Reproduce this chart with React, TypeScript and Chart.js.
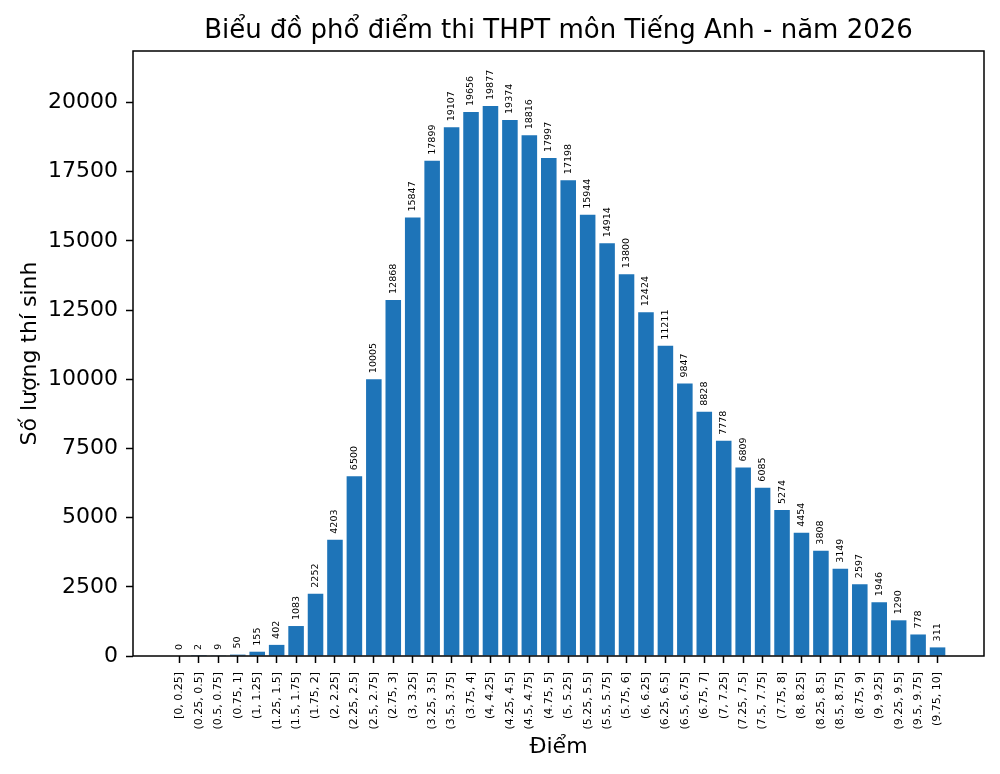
import { useEffect, useRef } from 'react'
import { Chart, registerables, type Plugin } from 'chart.js'

Chart.register(...registerables)

const FONT = '"DejaVu Sans", sans-serif'
const BAR_COLOR = '#1e74b8'

const TITLE = 'Biểu đồ phổ điểm thi THPT môn Tiếng Anh - năm 2026'
const Y_TITLE = 'Số lượng thí sinh'
const X_TITLE = 'Điểm'

const categories = [
  '[0, 0.25]', '(0.25, 0.5]', '(0.5, 0.75]', '(0.75, 1]',
  '(1, 1.25]', '(1.25, 1.5]', '(1.5, 1.75]', '(1.75, 2]',
  '(2, 2.25]', '(2.25, 2.5]', '(2.5, 2.75]', '(2.75, 3]',
  '(3, 3.25]', '(3.25, 3.5]', '(3.5, 3.75]', '(3.75, 4]',
  '(4, 4.25]', '(4.25, 4.5]', '(4.5, 4.75]', '(4.75, 5]',
  '(5, 5.25]', '(5.25, 5.5]', '(5.5, 5.75]', '(5.75, 6]',
  '(6, 6.25]', '(6.25, 6.5]', '(6.5, 6.75]', '(6.75, 7]',
  '(7, 7.25]', '(7.25, 7.5]', '(7.5, 7.75]', '(7.75, 8]',
  '(8, 8.25]', '(8.25, 8.5]', '(8.5, 8.75]', '(8.75, 9]',
  '(9, 9.25]', '(9.25, 9.5]', '(9.5, 9.75]', '(9.75, 10]',
]

const counts = [
  0, 2, 9, 50, 155, 402, 1083, 2252, 4203, 6500,
  10005, 12868, 15847, 17899, 19107, 19656, 19877, 19374, 18816, 17997,
  17198, 15944, 14914, 13800, 12424, 11211, 9847, 8828, 7778, 6809,
  6085, 5274, 4454, 3808, 3149, 2597, 1946, 1290, 778, 311,
]

const yTicks = [0, 2500, 5000, 7500, 10000, 12500, 15000, 17500, 20000]

// matplotlib-like frame, titles and value labels
const decorPlugin: Plugin<'bar'> = {
  id: 'mplDecor',
  afterDatasetsDraw(chart) {
    const { ctx } = chart
    const meta = chart.getDatasetMeta(0)
    ctx.save()
    ctx.fillStyle = '#000'
    ctx.font = `9.5px ${FONT}`
    ctx.textAlign = 'left'
    ctx.textBaseline = 'middle'
    meta.data.forEach((el, i) => {
      ctx.save()
      ctx.translate(el.x, el.y - 6)
      ctx.rotate(-Math.PI / 2)
      ctx.fillText(String(counts[i]), 0, 0)
      ctx.restore()
    })
    ctx.restore()
  },
  afterDraw(chart) {
    const { ctx, chartArea } = chart
    const { left, right, top, bottom } = chartArea
    ctx.save()
    ctx.strokeStyle = '#000'
    ctx.lineWidth = 1.5
    ctx.strokeRect(left, top, right - left, bottom - top)

    ctx.fillStyle = '#000'
    ctx.textAlign = 'center'
    ctx.textBaseline = 'alphabetic'
    ctx.font = `26px ${FONT}`
    ctx.fillText(TITLE, (left + right) / 2, 38)

    ctx.font = `22px ${FONT}`
    ctx.fillText(X_TITLE, (left + right) / 2, 753)

    ctx.translate(36, (top + bottom) / 2)
    ctx.rotate(-Math.PI / 2)
    ctx.fillText(Y_TITLE, 0, 0)
    ctx.restore()
  },
}

export default function App() {
  const canvasRef = useRef<HTMLCanvasElement>(null)

  useEffect(() => {
    const canvas = canvasRef.current
    if (!canvas) return
    Chart.getChart(canvas)?.destroy()

    const chart = new Chart(canvas, {
      type: 'bar',
      data: {
        datasets: [
          {
            data: counts.map((v, i) => ({ x: i, y: v })),
            backgroundColor: BAR_COLOR,
            borderWidth: 0,
            barPercentage: 0.8,
            categoryPercentage: 1,
          },
        ],
      },
      options: {
        responsive: true,
        maintainAspectRatio: false,
        animation: false,
        devicePixelRatio: 1,
        layout: { padding: { top: 51, right: 16, bottom: 0, left: 0 } },
        plugins: {
          legend: { display: false },
          tooltip: { enabled: false },
        },
        scales: {
          x: {
            type: 'linear',
            offset: false,
            min: -2.39,
            max: 41.39,
            afterBuildTicks: (scale) => {
              scale.ticks = categories.map((_, i) => ({ value: i }))
            },
            afterFit: (scale) => {
              scale.height = 118
            },
            grid: {
              display: true,
              offset: false,
              drawOnChartArea: false,
              drawTicks: true,
              tickLength: 7,
              tickWidth: 1.5,
              tickColor: '#000',
            },
            border: { display: false },
            ticks: {
              autoSkip: false,
              maxRotation: 90,
              minRotation: 90,
              padding: 9,
              color: '#000',
              font: { family: FONT, size: 11 },
              callback: (value) => categories[Number(value)] ?? '',
            },
          },
          y: {
            min: 0,
            max: 21865,
            afterBuildTicks: (scale) => {
              scale.ticks = yTicks.map((v) => ({ value: v }))
            },
            afterFit: (scale) => {
              scale.width = 133
            },
            grid: {
              display: true,
              drawOnChartArea: false,
              drawTicks: true,
              tickLength: 7,
              tickWidth: 1.5,
              tickColor: '#000',
            },
            border: { display: false },
            ticks: {
              padding: 8,
              color: '#000',
              font: { family: FONT, size: 22 },
              callback: (value) => String(value),
            },
          },
        },
      },
      plugins: [decorPlugin],
    })

    return () => {
      chart.destroy()
    }
  }, [])

  return (
    <div style={{ position: 'absolute', left: 0, top: 0, width: 1000, height: 774, background: '#fff' }}>
      <canvas ref={canvasRef} aria-label={TITLE} />
    </div>
  )
}
